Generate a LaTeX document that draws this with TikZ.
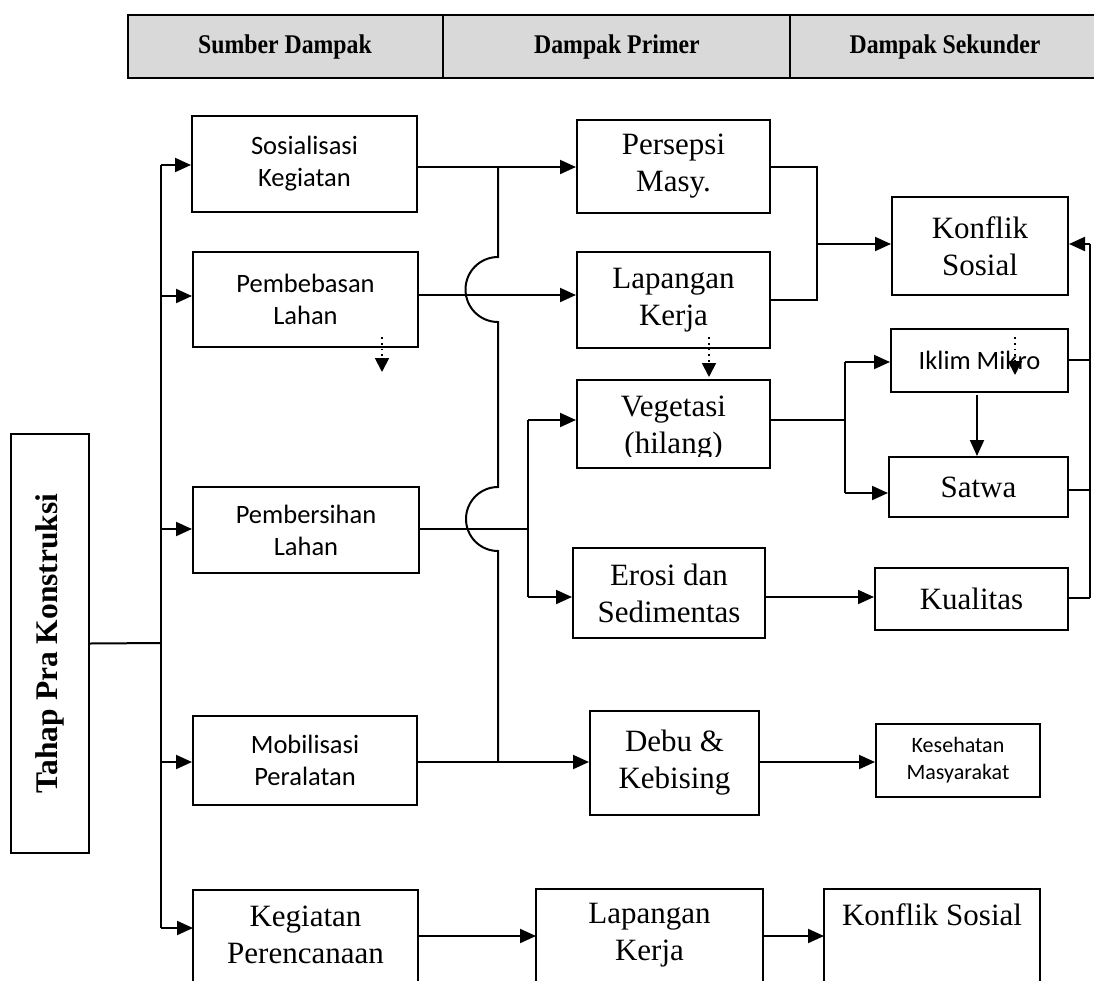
\documentclass[tikz,border=0pt]{standalone}
\usepackage{fontspec}
\setmainfont{Liberation Serif}
\newfontfamily\calfont{Carlito}
\newfontfamily\hdrfont[FakeStretch=0.88]{Liberation Serif}
\usetikzlibrary{arrows.meta}
\begin{document}
\begin{tikzpicture}[x=0.5pt,y=-0.5pt,line width=1pt,
  box/.style={draw,line width=1pt,inner sep=0pt,align=center},
  tbox/.style={box,font=\fontsize{15.5}{18.5}\selectfont},
  cbox/.style={box,font=\calfont\fontsize{13.25}{16}\selectfont},
  ttext/.style={inner sep=0pt,align=center,font=\fontsize{15.5}{18.5}\selectfont},
  hdr/.style={inner sep=0pt,font=\hdrfont\bfseries\fontsize{13.5}{15}\selectfont},
  arr/.style={-{Triangle[length=8pt,width=7pt]}},
  darr/.style={dotted,line width=0.9pt,-{Triangle[length=7pt,width=7pt]}}]
\useasboundingbox (0,0) rectangle (1094,981);

% header
\fill[fill={rgb,255:red,217;green,217;blue,217}] (128,15) rectangle (1110,78);
\draw[line width=1.2pt] (1110,15) -- (128,15) -- (128,78) -- (1110,78);
\draw (443,15) -- (443,78);
\draw (790,15) -- (790,78);
\node[hdr] (h1) at (285,47) {Sumber Dampak};
\node[hdr] (h2) at (617,47) {Dampak Primer};
\node[hdr] (h3) at (945,47) {Dampak Sekunder};

% left box
\node[box,rotate=90,minimum width=209.5pt,minimum height=39pt,
  font=\bfseries\fontsize{15.75}{18}\selectfont] (tahap) at (50,643.5) {Tahap Pra Konstruksi};

% source column
\node[cbox,minimum width=112.5pt,minimum height=48pt] (sos) at (304.5,164) {Sosialisasi\\Kegiatan};
\node[cbox,minimum width=112.5pt,minimum height=47.5pt] (pbb) at (305.5,299.5) {Pembebasan\\Lahan};
\node[cbox,minimum width=113pt,minimum height=43pt] (pbs) at (306,530) {Pembersihan\\Lahan};
\node[cbox,minimum width=112pt,minimum height=44.5pt] (mob) at (305,760.5) {Mobilisasi\\Peralatan};
\draw (193,1000) -- (193,890) -- (418,890) -- (418,1000);
\node[ttext] (keg) at (305.5,935) {Kegiatan\\Perencanaan};

% primary column
\node[tbox,minimum width=96.5pt,minimum height=46.5pt] (per) at (673.5,166.5) {Persepsi\\Masy.};
\node[tbox,minimum width=96.5pt,minimum height=48pt] (lap) at (673.5,300) {Lapangan\\Kerja};
\node[ttext] (vegt) at (673.5,428) {Vegetasi\\(hilang)};
\fill[white] (578,457) rectangle (769,467);
\node[box,minimum width=96.5pt,minimum height=44pt] (veg) at (673.5,424) {};
\node[tbox,minimum width=96pt,minimum height=45pt] (ero) at (669,593) {Erosi dan\\Sedimentas};
\node[tbox,minimum width=84.5pt,minimum height=52pt] (debu) at (674.5,763) {Debu \&\\Kebising};
\draw (536,1000) -- (536,889) -- (763,889) -- (763,1000);
\node[ttext] (lap2) at (649.5,935) {Lapangan\\Kerja};

% secondary column
\node[tbox,minimum width=88pt,minimum height=49pt] (kon) at (980,246) {Konflik\\Sosial};
\node[cbox,minimum width=88.5pt,minimum height=31.5pt] (ikl) at (979.5,360.5) {Iklim Mikro};
\node[tbox,minimum width=89.5pt,minimum height=30pt] (sat) at (978.5,487) {Satwa};
\node[tbox,minimum width=96.5pt,minimum height=31pt] (kua) at (971.5,599) {Kualitas};
\node[box,font=\calfont\fontsize{11}{13.5}\selectfont,minimum width=82pt,minimum height=36.5pt] (kes) at (958,760.5) {Kesehatan\\Masyarakat};
\draw (824,1000) -- (824,889) -- (1040,889) -- (1040,1000);
\node[ttext] (kon2) at (932,915) {Konflik Sosial};

% junction coordinates
\coordinate (sp) at (161,643);
\coordinate (jv) at (528,529);
\coordinate (jk) at (817,244);
\coordinate (jm) at (845,420);
\coordinate (jr) at (1090,244);

% spine
\draw (tahap.south) -- (sp);
\draw (161,165) -- (161,928);
\draw[arr] (sp |- 0,165) -- (sos.west |- 0,165);
\draw[arr] (sp |- 0,296) -- (pbb.west |- 0,296);
\draw[arr] (sp |- 0,529) -- (pbs.west |- 0,529);
\draw[arr] (sp |- 0,762) -- (mob.west |- 0,762);
\draw[arr] (sp |- 0,928) -- (193,928);

% source -> primary
\draw[arr] (sos.east |- 0,167) -- (per.west |- 0,167);
\draw[arr] (pbb.east |- 0,295) -- (lap.west |- 0,295);
\draw (498,167) -- (498,257) arc[start angle=270,end angle=90,radius=32.5]
  -- (498,487) arc[start angle=270,end angle=90,radius=32] -- (498,762);
\draw (pbs.east |- jv) -- (jv);
\draw (jv |- 0,420) -- (jv |- 0,597);
\draw[arr] (jv |- 0,420) -- (veg.west |- 0,420);
\draw[arr] (jv |- 0,597) -- (ero.west |- 0,597);
\draw[arr] (mob.east |- 0,762) -- (debu.west |- 0,762);
\draw[arr] (418,936) -- (536,936);

% primary -> secondary
\draw (per.east |- 0,167) -- (jk |- 0,167) -- (jk |- 0,300) -- (lap.east |- 0,300);
\draw[arr] (jk) -- (kon.west |- jk);
\draw (veg.east |- jm) -- (jm);
\draw (jm |- 0,362) -- (jm |- 0,493);
\draw[arr] (jm |- 0,362) -- (ikl.west |- 0,362);
\draw[arr] (jm |- 0,493) -- (sat.west |- 0,493);
\draw[arr] (977,395) -- (sat.north -| 977,0);
\draw[arr] (ero.east |- 0,597) -- (kua.west |- 0,597);
\draw[arr] (debu.east |- 0,762) -- (kes.west |- 0,762);
\draw[arr] (763,936) -- (824,936);

% right bus
\draw (ikl.east |- 0,360) -- (jr |- 0,360);
\draw (sat.east |- 0,490) -- (jr |- 0,490);
\draw (kua.east |- 0,598) -- (jr |- 0,598);
\draw (jr) -- (jr |- 0,598);
\draw[arr] (jr) -- (kon.east |- jr);

% dotted arrows
\draw[darr] (382,337) -- (382,372);
\draw[darr] (709,337) -- (709,377);
\draw[darr] (1015,337) -- (1015,375);
\end{tikzpicture}
\end{document}
